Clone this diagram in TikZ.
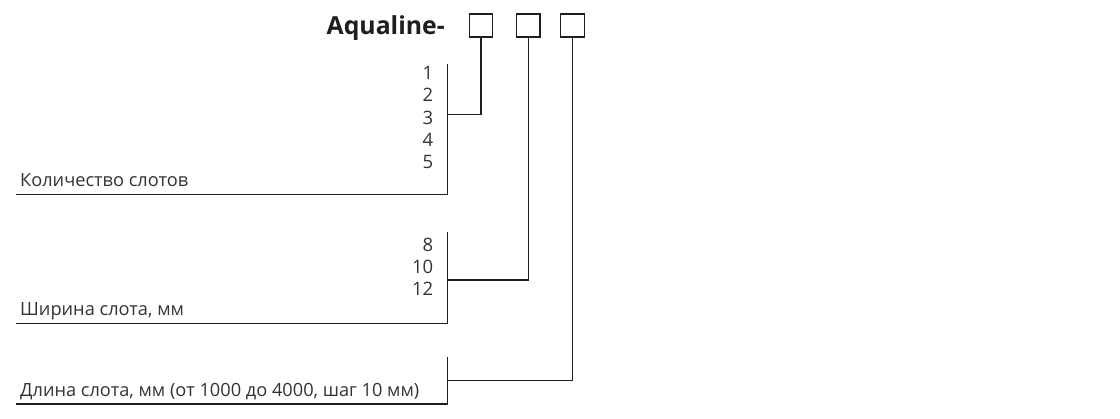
\documentclass[tikz,border=0pt]{standalone}
\usepackage{fontspec}
\setmainfont{Open Sans}
\newfontfamily\titlefont{Open Sans}[UprightFont=* Bold]
\definecolor{ink}{HTML}{1E1E1E}
\definecolor{txt}{HTML}{333333}
\begin{document}
\begin{tikzpicture}[x=1pt,y=-1pt,
  wire/.style={draw=ink,line width=1.4pt},
  codebox/.style={draw=ink,line width=1.4pt,minimum width=23.5pt,minimum height=23pt,inner sep=0pt,anchor=north west},
  lbl/.style={text=txt,font=\fontsize{18.2}{20}\selectfont,inner sep=0pt,anchor=base west},
  num/.style={text=txt,font=\fontsize{18.5}{20}\selectfont,inner sep=0pt,anchor=base east},
  title/.style={text=ink,font=\titlefont\fontsize{24.8}{28}\selectfont,inner sep=0pt,anchor=base east}]
\useasboundingbox (0,0) rectangle (1120,418);
\node[title] (t) at (445,34.3) {Aqualine-};
\node[codebox] (b1) at (468.5,13.3) {};
\node[codebox] (b2) at (515.8,13.3) {};
\node[codebox] (b3) at (560,13.3) {};
% group 1
\node[num] (n1) at (433.5,79) {1};
\node[num] (n2) at (433.5,101.5) {2};
\node[num] (n3) at (433.5,124) {3};
\node[num] (n4) at (433.5,146.3) {4};
\node[num] (n5) at (433.5,168.6) {5};
\node[lbl] (l1) at (20,186.7) {Количество слотов};
\coordinate (g1t) at (447.5,64);
\coordinate (g1b) at (447.5,194.3);
\coordinate (g1l) at (16,194.3);
\coordinate (g1j) at (447.5,114.3);
\draw[wire] (g1t) -- (g1b) -- (g1l);
\draw[wire] (g1j) -| (b1.south);
% group 2
\node[num] (m1) at (433.5,251) {8};
\node[num] (m2) at (433.5,273.5) {10};
\node[num] (m3) at (433.5,295.5) {12};
\node[lbl] (l2) at (20,315.7) {Ширина слота, мм};
\coordinate (g2t) at (447.5,232.3);
\coordinate (g2b) at (447.5,323.3);
\coordinate (g2l) at (16,323.3);
\coordinate (g2j) at (447.5,280);
\draw[wire] (g2t) -- (g2b) -- (g2l);
\draw[wire] (g2j) -| (b2.south);
% group 3
\node[lbl] (l3) at (20,396.8) {Длина слота, мм (от 1000 до 4000, шаг 10 мм)};
\coordinate (g3t) at (447.5,357.3);
\coordinate (g3b) at (447.5,403.8);
\coordinate (g3l) at (16,403.8);
\coordinate (g3j) at (447.5,380.3);
\draw[wire] (g3t) -- (g3b) -- (g3l);
\draw[wire] (g3j) -| (b3.south);
\end{tikzpicture}
\end{document}
